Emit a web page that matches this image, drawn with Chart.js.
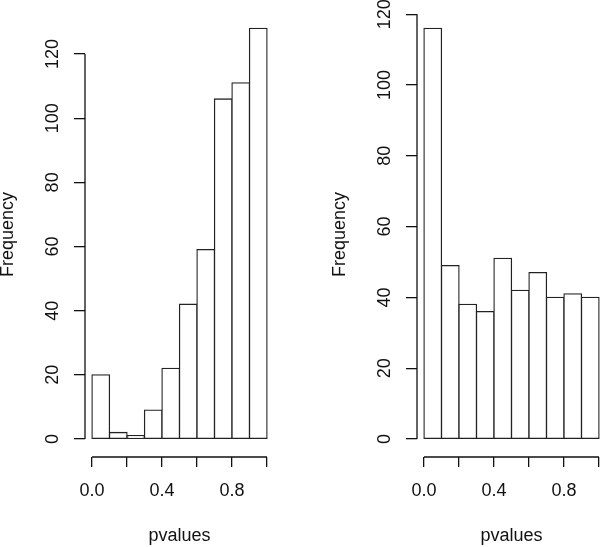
<!DOCTYPE html>
<html>
<head>
<meta charset="utf-8">
<script src="https://cdn.jsdelivr.net/npm/chart.js@4.4.1/dist/chart.umd.min.js"></script>
<style>
  html, body { margin: 0; padding: 0; background: #fff; overflow: hidden; }
  #wrap { position: relative; width: 600px; height: 547px; overflow: hidden; }
  canvas { position: absolute; top: 0; }
  #left { left: 0px; }
  #right { left: 332px; }
</style>
</head>
<body>
<div id="wrap">
  <canvas id="left" width="300" height="547"></canvas>
  <canvas id="right" width="300" height="547"></canvas>
</div>
<script>
// bin mid points of the pvalues histograms (bin width 0.1)
const binMids = [0.05, 0.15, 0.25, 0.35, 0.45, 0.55, 0.65, 0.75, 0.85, 0.95]
// frequencies, left histogram
const leftCounts = [20, 2, 1, 9, 22, 42, 59, 106, 111, 128]
// frequencies, right histogram
const rightCounts = [116, 49, 38, 36, 51, 42, 47, 40, 41, 40]

// axis ticks and labels (R drops the overlapping x labels)
const xTicks = [0, 0.2, 0.4, 0.6, 0.8, 1.0]
const xTickLabels = ['0.0', '', '0.4', '', '0.8', '']
const yTicks = [0, 20, 40, 60, 80, 100, 120]
const yTickLabels = ['0', '20', '40', '60', '80', '100', '120']

const xTitle = 'pvalues'
const yTitle = 'Frequency'

const font = { family: '"Liberation Sans", Arial, sans-serif', size: 18 }
const textColor = '#111'
const axisColor = '#111'
const barLine = '#222'

// R style axis lines: only from first to last tick
const rAxes = {
  id: 'rAxes',
  afterDraw(chart) {
    const { ctx } = chart
    const x = chart.scales.x
    const y = chart.scales.y
    ctx.save()
    ctx.strokeStyle = axisColor
    ctx.lineWidth = 1.3
    ctx.beginPath()
    ctx.moveTo(x.getPixelForValue(xTicks[0]), x.top)
    ctx.lineTo(x.getPixelForValue(xTicks[xTicks.length - 1]), x.top)
    ctx.moveTo(y.right, y.getPixelForValue(yTicks[0]))
    ctx.lineTo(y.right, y.getPixelForValue(yTicks[yTicks.length - 1]))
    ctx.stroke()
    ctx.restore()
  }
}

function makeHist(id, counts) {
  const top = Math.max(...counts)
  const ctx = document.getElementById(id).getContext('2d')
  return new Chart(ctx, {
    type: 'bar',
    data: {
      datasets: [{
        data: binMids.map((m, i) => ({ x: m, y: counts[i] })),
        backgroundColor: '#fff',
        borderColor: barLine,
        borderWidth: 1.3,
        inflateAmount: 0.65,
        borderSkipped: false,
        barPercentage: 1,
        categoryPercentage: 1,
      }],
    },
    options: {
      responsive: false,
      animation: false,
      devicePixelRatio: 1,
      layout: { padding: { left: 0, right: 26, top: 12, bottom: 0 } },
      plugins: { legend: { display: false }, tooltip: { enabled: false } },
      scales: {
        x: {
          type: 'linear',
          min: -0.04,
          max: 1.04,
          offset: false,
          afterBuildTicks: (s) => { s.ticks = xTicks.map((v) => ({ value: v })) },
          afterFit: (s) => { s.height = 90; s.paddingLeft = 0; s.paddingRight = 0 },
          grid: { offset: false, drawOnChartArea: false, drawTicks: true, tickLength: 10, color: axisColor, lineWidth: 1.3 },
          border: { display: false },
          ticks: {
            autoSkip: false, maxRotation: 0, padding: 13, font: font, color: textColor,
            callback: (v, i) => xTickLabels[i],
          },
          title: { display: true, text: xTitle, font: { ...font, lineHeight: 0.9 }, color: textColor, padding: { top: 0, bottom: 3 } },
        },
        y: {
          min: -0.044 * top,
          max: 1.04 * top,
          afterBuildTicks: (s) => { s.ticks = yTicks.map((v) => ({ value: v })) },
          // fixed width, and no extra room for the rotated end labels
          afterFit: (s) => { s.width = 85; s.paddingTop = 0; s.paddingBottom = 0 },
          grid: { drawOnChartArea: false, drawTicks: true, tickLength: 11, color: axisColor, lineWidth: 1.3 },
          border: { display: false },
          ticks: {
            autoSkip: false, minRotation: 90, maxRotation: 90, crossAlign: 'center', padding: 6,
            font: font, color: textColor,
            callback: (v, i) => yTickLabels[i],
          },
          title: { display: true, text: yTitle, font: { ...font, lineHeight: 0.9 }, color: textColor, padding: { top: 0, bottom: 0 } },
        },
      },
    },
    plugins: [rAxes],
  })
}

makeHist('left', leftCounts)
makeHist('right', rightCounts)
</script>
</body>
</html>
